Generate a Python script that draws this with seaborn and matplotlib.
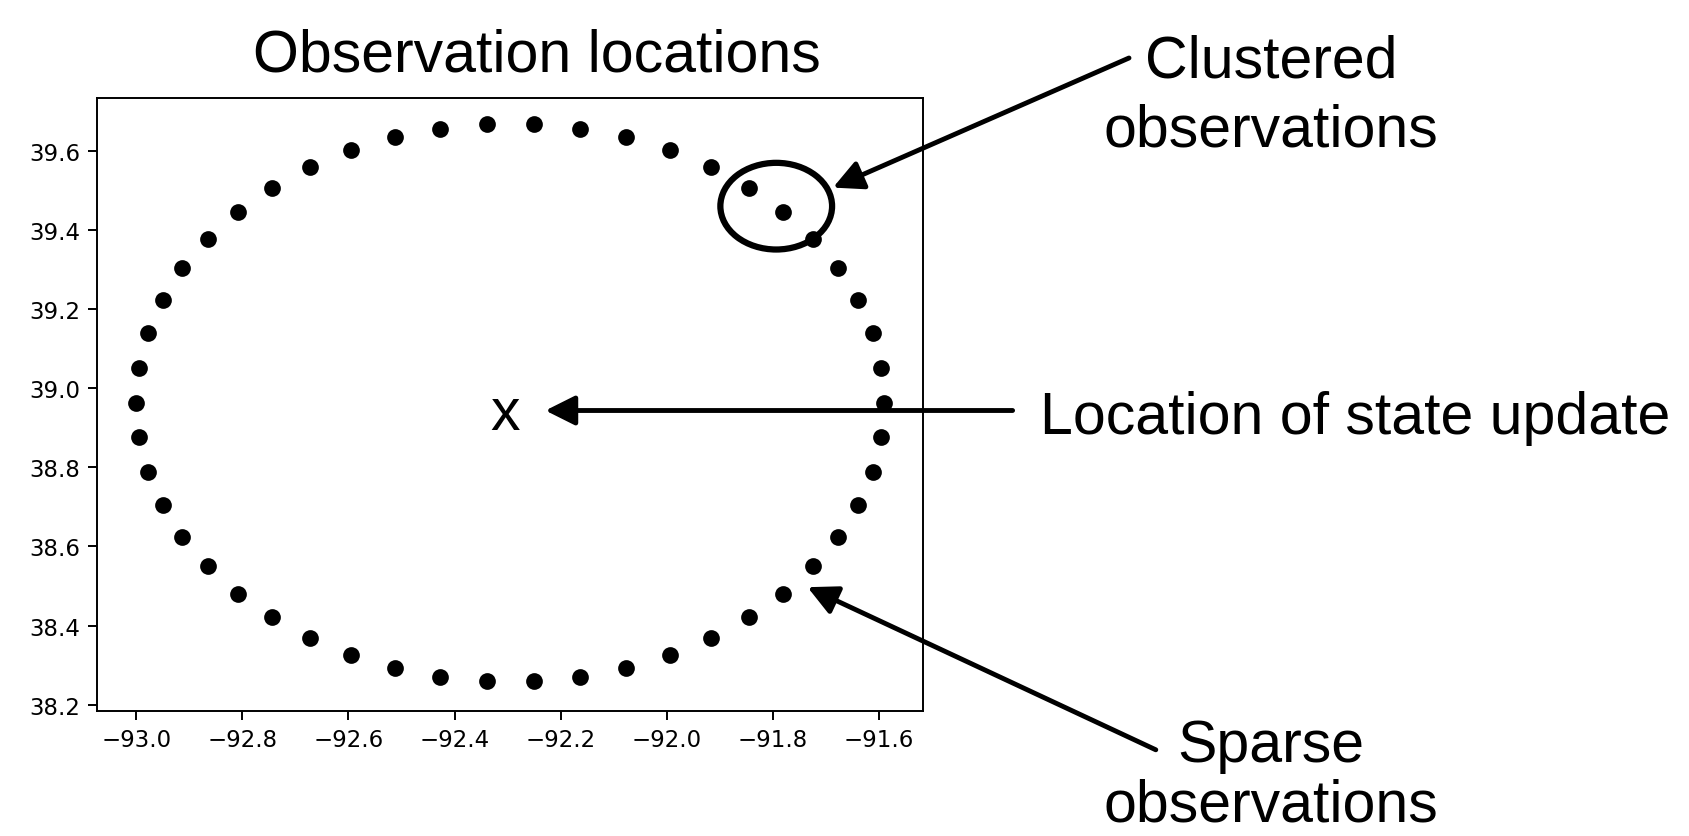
import matplotlib
matplotlib.use("Agg")
import matplotlib.pyplot as plt
import seaborn as sns
from matplotlib.patches import Ellipse

# Observation locations (lon, lat)
lon = [-91.590, -91.596, -91.612, -91.640, -91.677, -91.725, -91.781, -91.846,
       -91.917, -91.995, -92.077, -92.163, -92.251, -92.339, -92.427, -92.513,
       -92.595, -92.673, -92.744, -92.809, -92.865, -92.913, -92.950, -92.978,
       -92.994, -93.000, -92.994, -92.978, -92.950, -92.913, -92.865, -92.809,
       -92.744, -92.673, -92.595, -92.513, -92.427, -92.339, -92.251, -92.163,
       -92.077, -91.995, -91.917, -91.846, -91.781, -91.725, -91.677, -91.640,
       -91.612, -91.596]
lat = [38.964, 39.052, 39.139, 39.224, 39.304, 39.378, 39.447, 39.507,
       39.559, 39.602, 39.635, 39.657, 39.668, 39.668, 39.657, 39.635,
       39.602, 39.559, 39.507, 39.447, 39.378, 39.304, 39.224, 39.139,
       39.052, 38.964, 38.876, 38.789, 38.704, 38.624, 38.550, 38.481,
       38.421, 38.369, 38.326, 38.293, 38.271, 38.260, 38.260, 38.271,
       38.293, 38.326, 38.369, 38.421, 38.481, 38.550, 38.624, 38.704,
       38.789, 38.876]

xticks = [-93.0, -92.8, -92.6, -92.4, -92.2, -92.0, -91.8, -91.6]
yticks = [38.2, 38.4, 38.6, 38.8, 39.0, 39.2, 39.4, 39.6]

# location of the state update and the clustered pair
update_lon, update_lat = -92.304, 38.897
cluster_lon, cluster_lat = -91.794, 39.461
cluster_w, cluster_h = 0.2105, 0.2193

# where the arrows point to (data coords)
clustered_tip = (-91.687, 39.508)
update_tip = (-92.229, 38.944)
sparse_tip = (-91.735, 38.497)

TXT = dict(family=["Liberation Sans", "DejaVu Sans"], fontsize=42.5, color="black")

fig = plt.figure(figsize=(16.89, 8.37), dpi=100)
ax = fig.add_axes([0.0577, 0.149, 0.4886, 0.7324])

sns.scatterplot(x=lon, y=lat, ax=ax, color="black", s=145, linewidth=0, legend=False)

ax.set_xlim(-93.073, -91.518)
ax.set_ylim(38.183, 39.734)
ax.set_xticks(xticks)
ax.set_yticks(yticks)
ax.tick_params(labelsize=16.5, length=6.3, width=1.4, pad=6)
for sp in ax.spines.values():
    sp.set_linewidth(1.4)

# hand drawn ring round the clustered observations
ax.add_patch(Ellipse((cluster_lon, cluster_lat), cluster_w, cluster_h,
                     fill=False, ec="black", lw=4.5))

ax.text(update_lon, update_lat, "x", ha="center", va="baseline", **TXT)

# annotations
arrow = dict(arrowstyle="-|>", color="black", lw=3.5, mutation_scale=45,
             shrinkA=0, shrinkB=0)
ax.annotate("", xy=clustered_tip, xycoords="data",
            xytext=(1129 / 1689, 1 - 59 / 837), textcoords="figure fraction",
            arrowprops=arrow)
ax.annotate("", xy=update_tip, xycoords="data",
            xytext=(1012.6 / 1689, 1 - 411.5 / 837), textcoords="figure fraction",
            arrowprops=arrow)
ax.annotate("", xy=sparse_tip, xycoords="data",
            xytext=(1155.8 / 1689, 1 - 750.8 / 837), textcoords="figure fraction",
            arrowprops=arrow)

fig.text(536.5 / 1689, 1 - 72 / 837, "Observation locations", ha="center", va="baseline", **TXT)
fig.text(1271 / 1689, 1 - 77.6 / 837, "Clustered", ha="center", va="baseline", **TXT)
fig.text(1271 / 1689, 1 - 146.5 / 837, "observations", ha="center", va="baseline", **TXT)
fig.text(1039.5 / 1689, 1 - 434 / 837, "Location of state update", ha="left", va="baseline", **TXT)
fig.text(1271 / 1689, 1 - 761.6 / 837, "Sparse", ha="center", va="baseline", **TXT)
fig.text(1271 / 1689, 1 - 822 / 837, "observations", ha="center", va="baseline", **TXT)

fig.savefig("out.png", dpi=100)
